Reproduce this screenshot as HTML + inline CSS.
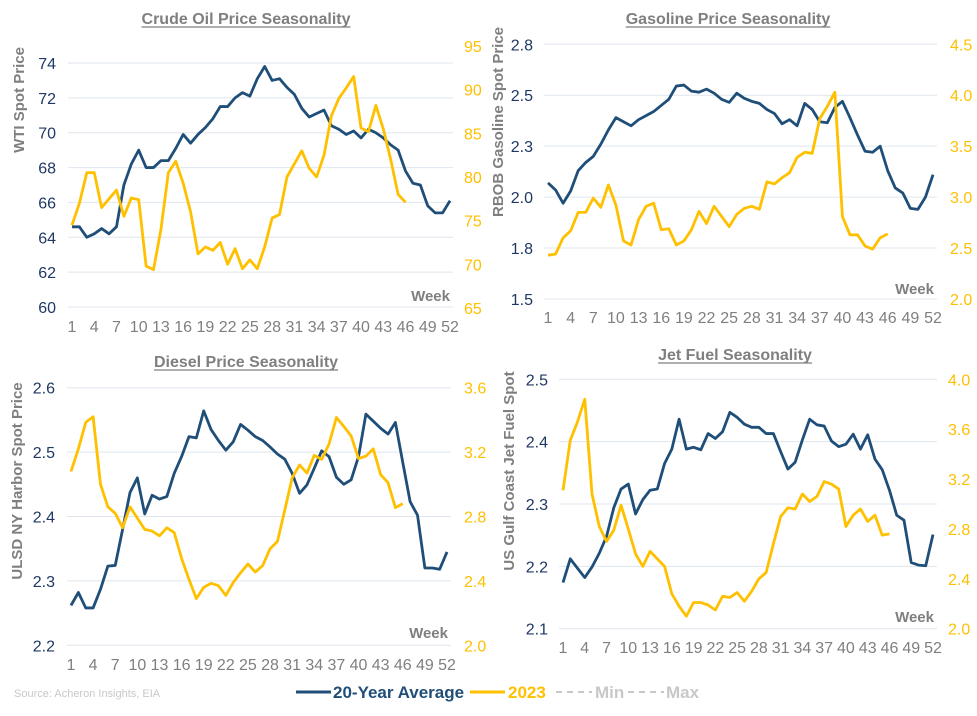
<!DOCTYPE html>
<html><head><meta charset="utf-8"><style>
html,body{margin:0;padding:0;background:#fff;}
body{width:977px;height:711px;overflow:hidden;font-family:"Liberation Sans",Arial,sans-serif;}
svg text{font-family:"Liberation Sans",Arial,sans-serif;}
</style></head><body>
<svg id="root" width="977" height="711" viewBox="0 0 977 711">
<text x="14" y="697" font-size="11" fill="#c8c8c8">Source: Acheron Insights, EIA</text>
<g>
<g><line x1="296" y1="692" x2="331" y2="692" stroke="#1f4e79" stroke-width="3"/><text x="333" y="698" font-size="17" font-weight="bold" fill="#1f4e79">20-Year Average</text></g>
<g><line x1="470" y1="692" x2="505" y2="692" stroke="#ffc000" stroke-width="3"/><text x="508" y="698" font-size="17" font-weight="bold" fill="#ffc000">2023</text></g>
<g><line x1="556" y1="692" x2="592" y2="692" stroke="#c8c8c8" stroke-width="2" stroke-dasharray="6,5"/><text x="595" y="698" font-size="17" font-weight="bold" fill="#c8c8c8">Min</text></g>
<g><line x1="628" y1="692" x2="664" y2="692" stroke="#c8c8c8" stroke-width="2" stroke-dasharray="6,5"/><text x="666" y="698" font-size="17" font-weight="bold" fill="#c8c8c8">Max</text></g>
</g>
</svg>
<script>
const weeks = Array.from({length:52},(_,i)=>i+1);
const xTickLabels = [1,4,7,10,13,16,19,22,25,28,31,34,37,40,43,46,49,52];

const crudeAvg = [64.6,64.6,64.0,64.2,64.5,64.2,64.6,67.0,68.2,69.0,68.0,68.0,68.4,68.4,69.1,69.9,69.4,69.9,70.3,70.8,71.5,71.5,72.0,72.3,72.1,73.1,73.8,73.0,73.1,72.6,72.2,71.4,70.9,71.1,71.3,70.4,70.2,69.9,70.1,69.7,70.2,70.0,69.7,69.3,69.0,67.8,67.1,67.0,65.8,65.4,65.4,66.1];
const crude2023 = [74.5,77.0,80.5,80.5,76.5,77.5,78.5,75.5,77.6,77.4,69.8,69.4,74.0,80.5,81.8,79.3,76.0,71.2,72.0,71.6,72.5,70.0,71.8,69.5,70.5,69.5,72.0,75.3,75.7,80.0,81.5,83.0,81.0,80.0,82.5,87.0,89.0,90.2,91.5,85.6,85.2,88.2,85.5,82.0,78.0,77.1];
const crudeLeftTicks = [60,62,64,66,68,70,72,74];
const crudeRightTicks = [65,70,75,80,85,90,95];

const gasAvg = [2.07,2.035,1.97,2.03,2.13,2.17,2.2,2.26,2.33,2.39,2.37,2.35,2.38,2.40,2.42,2.45,2.48,2.545,2.55,2.52,2.515,2.53,2.51,2.48,2.465,2.51,2.485,2.47,2.46,2.43,2.41,2.36,2.38,2.35,2.46,2.43,2.37,2.365,2.44,2.47,2.39,2.305,2.225,2.22,2.25,2.13,2.045,2.02,1.945,1.94,2.0,2.11];
const gas2023 = [2.43,2.44,2.6,2.67,2.85,2.85,2.99,2.9,3.12,2.92,2.57,2.53,2.78,2.91,2.94,2.68,2.69,2.53,2.57,2.68,2.86,2.74,2.91,2.81,2.71,2.83,2.89,2.91,2.88,3.15,3.13,3.19,3.24,3.39,3.44,3.43,3.77,3.89,4.03,2.81,2.63,2.63,2.52,2.49,2.6,2.64];
const gasLeftTicks = [1.5,1.75,2.0,2.25,2.5,2.75];
const gasLeftLabels = ["1.5","1.8","2.0","2.3","2.5","2.8"];
const gasRightTicks = [2.0,2.5,3.0,3.5,4.0,4.5];

const dieselAvg = [2.262,2.282,2.258,2.258,2.287,2.323,2.324,2.38,2.437,2.46,2.404,2.433,2.427,2.431,2.467,2.493,2.524,2.522,2.564,2.535,2.518,2.503,2.516,2.543,2.534,2.524,2.518,2.508,2.497,2.489,2.467,2.436,2.449,2.475,2.502,2.493,2.461,2.45,2.457,2.493,2.559,2.548,2.537,2.528,2.546,2.484,2.423,2.402,2.32,2.32,2.318,2.345];
const diesel2023 = [3.08,3.22,3.385,3.42,3.0,2.86,2.82,2.73,2.86,2.79,2.72,2.71,2.68,2.73,2.70,2.54,2.41,2.29,2.36,2.385,2.37,2.31,2.39,2.45,2.505,2.455,2.495,2.6,2.645,2.84,3.04,3.12,3.07,3.18,3.155,3.25,3.415,3.36,3.30,3.16,3.175,3.22,3.06,3.01,2.855,2.88];
const dieselLeftTicks = [2.2,2.3,2.4,2.5,2.6];
const dieselRightTicks = [2.0,2.4,2.8,3.2,3.6];

const jetAvg = [2.174,2.212,2.197,2.182,2.199,2.221,2.248,2.294,2.324,2.332,2.284,2.307,2.322,2.324,2.365,2.388,2.436,2.388,2.391,2.387,2.413,2.405,2.416,2.447,2.439,2.428,2.423,2.423,2.413,2.413,2.384,2.356,2.367,2.403,2.436,2.427,2.425,2.401,2.392,2.396,2.412,2.388,2.411,2.372,2.355,2.322,2.282,2.274,2.206,2.202,2.201,2.251];
const jet2023 = [3.11,3.51,3.66,3.84,3.08,2.82,2.70,2.79,2.99,2.80,2.60,2.50,2.62,2.56,2.50,2.28,2.18,2.10,2.21,2.21,2.19,2.15,2.26,2.25,2.29,2.22,2.30,2.40,2.45,2.68,2.90,2.97,2.96,3.08,3.02,3.06,3.18,3.16,3.12,2.82,2.91,2.96,2.86,2.91,2.75,2.76];
const jetLeftTicks = [2.1,2.2,2.3,2.4,2.5];
const jetRightTicks = [2.0,2.4,2.8,3.2,3.6,4.0];

const NS = "http://www.w3.org/2000/svg";
const root = document.getElementById('root');
function mk(tag, attrs, parent){const e=document.createElementNS(NS,tag);for(const k in attrs)e.setAttribute(k,attrs[k]);parent.appendChild(e);return e;}

function drawChart(c){
  const g = mk('g',{},root);
  
  
  const xs = w => c.x0 + (w-1)*(c.x1-c.x0)/51;
  const yl = v => c.yB + (v-c.lMin)*(c.yT-c.yB)/(c.lMax-c.lMin);
  const yr = v => c.rB + (v-c.rMin)*(c.rT-c.rB)/(c.rMax-c.rMin);
  const t = mk('text',{x:c.tx,y:c.ty,'font-size':16,'font-weight':'bold',fill:'#7f7f7f','text-anchor':'middle'},g);
  t.textContent = c.title;
  
  
  const tw = t.getComputedTextLength();
  mk('line',{x1:c.tx-tw/2,y1:c.ty+3,x2:c.tx+tw/2,y2:c.ty+3,stroke:'#7f7f7f','stroke-width':1.2},g);
  c.lTicks.forEach((v,i)=>{
    const gl = mk('line',{x1:c.gx0,x2:c.gx1,y1:yl(v),y2:yl(v),stroke:'#dfe6ee','stroke-width':1},g);
    
    
    const lt = mk('text',{x:c.lx,y:yl(v)+6,'font-size':16,fill:'#1f3864','text-anchor':'end'},g);
    lt.textContent = c.lLabels ? c.lLabels[i] : String(v);
    
    
  });
  c.rTicks.forEach(v=>{
    const rt = mk('text',{x:c.rx,y:yr(v)+6,'font-size':16,fill:'#ffc000'},g);
    rt.textContent = c.rFmt(v);
    
    
  });
  xTickLabels.forEach(w=>{
    const xt = mk('text',{x:xs(w),y:c.xly,'font-size':16,fill:'#7f7f7f','text-anchor':'middle'},g);
    xt.textContent = String(w);
    
    
  });
  const wk = mk('text',{x:c.gx1-3,y:c.wy,'font-size':15,'font-weight':'bold',fill:'#7f7f7f','text-anchor':'end'},g);
  wk.textContent = 'Week';
  
  
  const yt = mk('text',{x:0,y:0,'font-size':15,'font-weight':'bold',fill:'#7f7f7f','text-anchor':'middle',transform:`translate(${c.ytx},${c.yty}) rotate(-90)`},g);
  yt.textContent = c.yTitle;
  
  
  const p1 = mk('polyline',{points:c.avg.map((v,i)=>xs(weeks[i])+','+yl(v)).join(' '),fill:'none',stroke:'#1f4e79','stroke-width':2.8,'stroke-linejoin':'round'},g);
  
  
  const p2 = mk('polyline',{points:c.cur.map((v,i)=>xs(weeks[i])+','+yr(v)).join(' '),fill:'none',stroke:'#ffc000','stroke-width':2.8,'stroke-linejoin':'round'},g);
  
  
}

drawChart({name:'crude-oil-chart',title:'Crude Oil Price Seasonality',tx:246,ty:24,
  x0:72,x1:450,gx0:68,gx1:453,yB:307,yT:63,lMin:60,lMax:74,rB:308,rT:46,rMin:65,rMax:95,
  lTicks:crudeLeftTicks,rTicks:crudeRightTicks,rFmt:v=>String(v),lx:56,rx:464,xly:332,wy:301,
  yTitle:'WTI Spot Price',ytx:24,yty:100,avg:crudeAvg,cur:crude2023});

drawChart({name:'gasoline-chart',title:'Gasoline Price Seasonality',tx:728,ty:24,
  x0:548,x1:933,gx0:544,gx1:937,yB:299,yT:44.3,lMin:1.5,lMax:2.75,rB:299,rT:44.3,rMin:2.0,rMax:4.5,
  lTicks:gasLeftTicks,lLabels:gasLeftLabels,rTicks:gasRightTicks,rFmt:v=>v.toFixed(1),lx:533,rx:950,xly:323,wy:294,
  yTitle:'RBOB Gasoline Spot Price',ytx:503,yty:122,avg:gasAvg,cur:gas2023});

drawChart({name:'diesel-chart',title:'Diesel Price Seasonality',tx:246,ty:367,
  x0:71,x1:447,gx0:67,gx1:451,yB:645.3,yT:387.7,lMin:2.2,lMax:2.6,rB:645.3,rT:387.7,rMin:2.0,rMax:3.6,
  lTicks:dieselLeftTicks,rTicks:dieselRightTicks,rFmt:v=>v.toFixed(1),lx:55,rx:464,xly:670,wy:638,
  yTitle:'ULSD NY Harbor Spot Price',ytx:22,yty:481,avg:dieselAvg,cur:diesel2023});

drawChart({name:'jet-fuel-chart',title:'Jet Fuel Seasonality',tx:735,ty:360,
  x0:563,x1:933,gx0:559,gx1:937,yB:628.7,yT:379.3,lMin:2.1,lMax:2.5,rB:628.7,rT:379.3,rMin:2.0,rMax:4.0,
  lTicks:jetLeftTicks,rTicks:jetRightTicks,rFmt:v=>v.toFixed(1),lx:548,rx:948,xly:653,wy:622,
  yTitle:'US Gulf Coast Jet Fuel Spot',ytx:514,yty:471,avg:jetAvg,cur:jet2023});
</script>
</body></html>
